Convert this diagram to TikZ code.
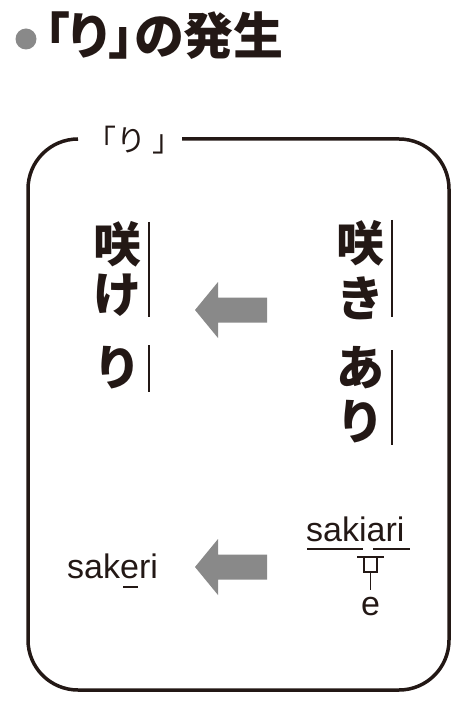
\documentclass[tikz,border=0pt]{standalone}
\usepackage{fontspec}
\usepackage{xcolor}
\setmainfont{Liberation Sans}
\newfontfamily\jp{Noto Sans CJK JP}
\newfontfamily\jptitle[RawFeature=+palt]{Noto Sans CJK JP}

\definecolor{ink}{RGB}{35,24,21}
\definecolor{arrowgray}{RGB}{137,137,137}

\tikzset{
  kana/.style={inner sep=0, font=\jp\bfseries\fontsize{48}{48}\selectfont, text=ink},
  roman/.style={inner sep=0, anchor=base west, font=\fontsize{34}{34}\selectfont, text=ink},
  bigarrow/.pic={
    \fill[arrowgray] (0,0) -- (23,-28) -- (23,-12.5) -- (72,-12.5) -- (72,12.5) -- (23,12.5) -- (23,28) -- cycle;
  },
  soundmark/.style={ink, line width=1.6pt}
}

\begin{document}
\begin{tikzpicture}[x=1pt, y=-1pt]
		\useasboundingbox (0,0) rectangle (467,708);
		\def\r{50};
		
		% title
		\fill[arrowgray] (26,39) circle [radius=10.5];
		\node[anchor=base west, inner sep=0, text=ink, font=\jptitle\bfseries\fontsize{50}{50}\selectfont] (title) at (44.5,55) {「り」の発生};
		
		% frame
		\draw[ink, line width=3.5pt, rounded corners=\r] (182,139) -- (449,139) -- (449,690) -- (28,690) -- (28,139) -- (78,139);
		\node[inner sep=0, text=ink, font=\jp\fontsize{30}{30}\selectfont] (frame label) at (134.5,140) {「り\kern7pt」};
		
		% right column
		\node[kana] (saki1) at (360,243) {咲};
		\node[kana] (ki) at (360,298) {き};
		\node[kana] (a) at (360,368) {あ};
		\node[kana] (ri1) at (360,422) {り};
		\draw[ink, line width=1.8pt] (392,220) -- (392,317);
		\draw[ink, line width=1.8pt] (392,350) -- (392,445);
		
		% left column
		\node[kana] (saki2) at (117,244) {咲};
		\node[kana] (ke) at (117,295) {け};
		\node[kana] (ri2) at (117,368) {り};
		\draw[ink, line width=1.8pt] (149,222) -- (149,317);
		\draw[ink, line width=1.8pt] (149,345) -- (149,392);
		
		% arrows
		\pic (upper arrow) at (195,310) {bigarrow};
		\pic (lower arrow) at (195,567) {bigarrow};
		
		% romanized forms
		\node[roman] (sakiari) at (306,541) {sakiari};
		\draw[soundmark] (307,549) -- (363,549);
		\draw[soundmark] (373,549) -- (410,549);
		\draw[soundmark] (357,557) -- (384,557);
		\draw[soundmark] (364,557) -- (364,572) -- (377,572) -- (377,557);
		\draw[soundmark] (370.5,572) -- (370.5,590);
		\node[roman, anchor=base] (e) at (370.5,615) {e};
		
		\node[roman] (sakeri) at (67,578) {sakeri};
		\draw[soundmark] (123,587) -- (138,587);
\end{tikzpicture}
\end{document}
